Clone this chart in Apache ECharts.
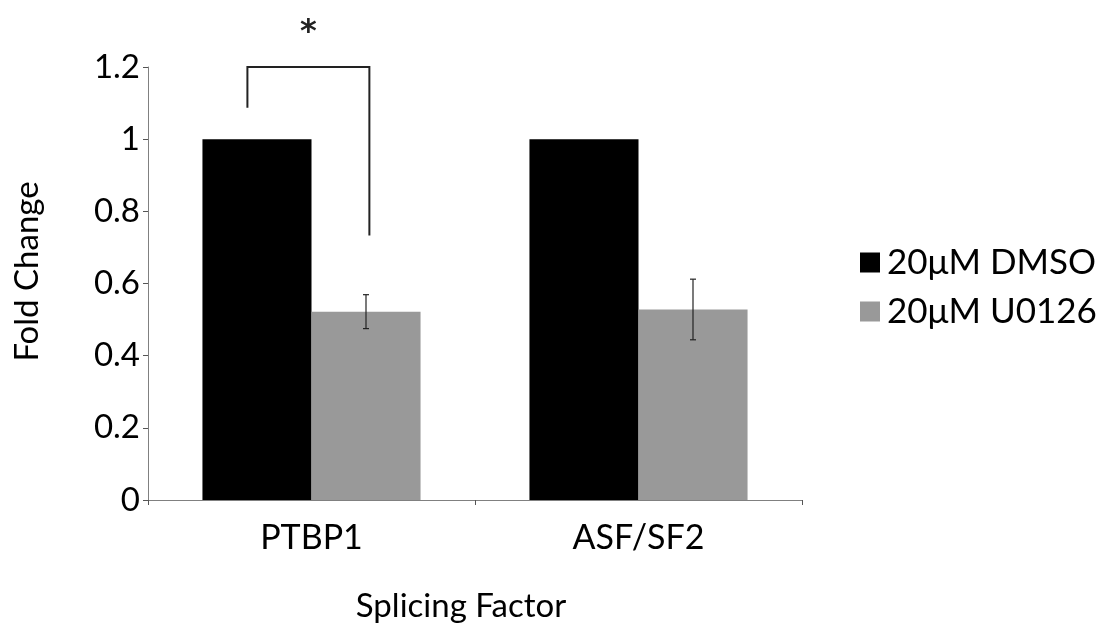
<!DOCTYPE html>
<html>
<head>
<meta charset="utf-8">
<title>Fold Change</title>
<script src="https://cdn.jsdelivr.net/npm/echarts@6/dist/echarts.min.js"></script>
<style>
  html, body { margin: 0; padding: 0; background: #fff; }
  #chart { width: 1111px; height: 629px; }
</style>
</head>
<body>
<div id="chart"></div>
<script>
// 数据
var categories = ['PTBP1', 'ASF/SF2'];
var seriesNames = ['20μM DMSO', '20μM U0126'];
var dmso = [1, 1];
var u0126 = [0.522, 0.528];
var u0126Err = [0.047, 0.084];
var yTicks = [0, 0.2, 0.4, 0.6, 0.8, 1, 1.2];
// significance bracket: top, left drop end, right drop end, asterisk height
var bracket = [1.2, 1.087, 0.733, 1.315];

var font = 'Lato, "Open Sans", sans-serif';
var chart = echarts.init(document.getElementById('chart'));

var errData = categories.map(function (c, i) {
    return [i, u0126[i], u0126Err[i]];
});

option = {
    animation: false,
    grid: { left: 148, right: 309, top: 67, bottom: 129 },
    legend: {
        orient: 'vertical',
        left: 855,
        top: 240,
        itemWidth: 20,
        itemHeight: 20,
        itemGap: 14,
        icon: 'rect',
        data: seriesNames,
        textStyle: { fontFamily: font, fontSize: 35, color: '#000', lineHeight: 34, padding: [0, 0, 0, 2] }
    },
    xAxis: {
        type: 'category',
        data: categories,
        name: 'Splicing Factor',
        nameLocation: 'middle',
        nameGap: 90,
        nameTextStyle: { fontFamily: font, fontSize: 33, color: '#000', padding: [0, 28, 0, 0] },
        axisLine: { lineStyle: { color: '#808080', width: 1 } },
        axisTick: { show: true, length: 5, lineStyle: { color: '#555' } },
        axisLabel: { fontFamily: font, fontSize: 34, color: '#000', margin: 21 }
    },
    yAxis: {
        type: 'value',
        min: yTicks[0],
        max: yTicks[yTicks.length - 1],
        interval: 0.2,
        name: 'Fold Change',
        nameLocation: 'middle',
        nameGap: 104,
        nameTextStyle: { fontFamily: font, fontSize: 33, color: '#000', padding: [0, 0, 0, 24] },
        splitLine: { show: false },
        axisLine: { show: true, lineStyle: { color: '#808080', width: 1 } },
        axisTick: { show: true, length: 5, lineStyle: { color: '#555' } },
        axisLabel: { fontFamily: font, fontSize: 33, color: '#000', margin: 8 }
    },
    series: [
        {
            name: seriesNames[0],
            type: 'bar',
            data: dmso,
            barGap: '0%',
            barCategoryGap: '33.3%',
            itemStyle: { color: '#000000' }
        },
        {
            name: seriesNames[1],
            type: 'bar',
            data: u0126,
            itemStyle: { color: '#999999' }
        },
        {
            // 误差线
            type: 'custom',
            data: errData,
            z: 10,
            silent: true,
            renderItem: function (params, api) {
                var idx = api.value(0);
                var band = api.size([1, 0])[0];
                var hi = api.coord([idx, api.value(1) + api.value(2)]);
                var lo = api.coord([idx, api.value(1) - api.value(2)]);
                var x = hi[0] + band / 6;
                var cap = 3;
                var st = { stroke: '#222', lineWidth: 1.2 };
                return {
                    type: 'group',
                    children: [
                        { type: 'line', shape: { x1: x, y1: hi[1], x2: x, y2: lo[1] }, style: st },
                        { type: 'line', shape: { x1: x - cap, y1: hi[1], x2: x + cap, y2: hi[1] }, style: st },
                        { type: 'line', shape: { x1: x - cap, y1: lo[1], x2: x + cap, y2: lo[1] }, style: st }
                    ]
                };
            }
        },
        {
            // 显著性标记
            type: 'custom',
            data: [[0, bracket[0]]],
            z: 10,
            silent: true,
            clip: false,
            renderItem: function (params, api) {
                var band = api.size([1, 0])[0];
                var top = api.coord([0, bracket[0]]);
                var l = api.coord([0, bracket[1]]);
                var r = api.coord([0, bracket[2]]);
                var star = api.coord([0, bracket[3]]);
                var xl = top[0] - band * 0.196;
                var xr = top[0] + band * 0.177;
                return {
                    type: 'group',
                    children: [
                        {
                            type: 'polyline',
                            shape: { points: [[xl, l[1]], [xl, top[1]], [xr, top[1]], [xr, r[1]]] },
                            style: { stroke: '#222', lineWidth: 2, fill: null }
                        },
                        {
                            type: 'text',
                            style: {
                                text: '*',
                                x: (xl + xr) / 2,
                                y: star[1] + 7,
                                align: 'center',
                                verticalAlign: 'middle',
                                font: 'bold 32px "DejaVu Sans", sans-serif',
                                fill: '#222'
                            }
                        }
                    ]
                };
            }
        }
    ]
};
chart.setOption(option);
</script>
</body>
</html>
